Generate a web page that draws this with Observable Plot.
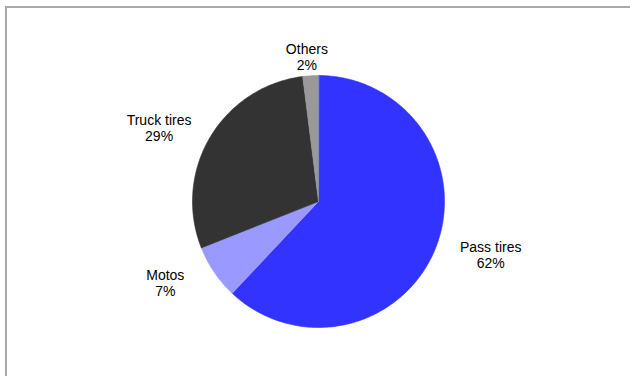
<!DOCTYPE html>
<html><head><meta charset="utf-8">
<script src="https://cdn.jsdelivr.net/npm/d3@7"></script>
<script src="https://cdn.jsdelivr.net/npm/@observablehq/plot@0.6"></script>
<style>
html,body{margin:0;padding:0;background:#fff;overflow:hidden}
#wrap{position:relative;width:630px;height:376px;overflow:hidden}
#frame{position:absolute;left:5px;top:6px;width:700px;height:500px;border:2px solid #a8a8a8;box-sizing:border-box;pointer-events:none}
#chart{position:absolute;left:0;top:0}
</style></head><body><div id="wrap"><div id="chart"></div><div id="frame"></div></div>
<script>
const categories = ["Pass tires", "Motos", "Truck tires", "Others"];
const shares = [62, 7, 29, 2];

const data = categories.map((name, i) => ({name, share: shares[i]}));
const arcs = d3.pie().sort(null).value(d => d.share)(data);

// polygon outline of each slice (center + arc samples)
const slicePts = [];
arcs.forEach(a => {
  const n = Math.max(2, Math.ceil((a.endAngle - a.startAngle) / (Math.PI * 2) * 360));
  slicePts.push({name: a.data.name, x: 0, y: 0});
  for (let k = 0; k <= n; k++) {
    const t = a.startAngle + (a.endAngle - a.startAngle) * k / n;
    slicePts.push({name: a.data.name, x: Math.sin(t), y: Math.cos(t)});
  }
});

const labels = arcs.map(a => {
  const m = (a.startAngle + a.endAngle) / 2;
  return {name: a.data.name, text: `${a.data.name}\n${a.data.share}%`, x: 1.47 * Math.sin(m), y: 1.15 * Math.cos(m)};
});

const chart = Plot.plot({
  width: 630,
  height: 376,
  marginLeft: 192,
  marginRight: 186,
  marginTop: 75,
  marginBottom: 49,
  x: {domain: [-1, 1], axis: null},
  y: {domain: [-1, 1], axis: null},
  color: {domain: categories, range: ["#3333ff", "#9999ff", "#333333", "#999999"]},
  style: {background: "transparent", fontFamily: "'Liberation Sans', Arial, sans-serif"},
  marks: [
    Plot.line(slicePts, {x: "x", y: "y", z: "name", fill: "name", stroke: "name", strokeWidth: 0.6, curve: "linear-closed"}),
    Plot.text(labels, {x: "x", y: "y", text: "text", fontSize: 14, fill: "#000", lineHeight: 1.15, lineAnchor: "middle", textAnchor: "middle", fontFamily: "'Liberation Sans', Arial, sans-serif"})
  ]
});
document.getElementById("chart").appendChild(chart);
</script>
</body></html>
